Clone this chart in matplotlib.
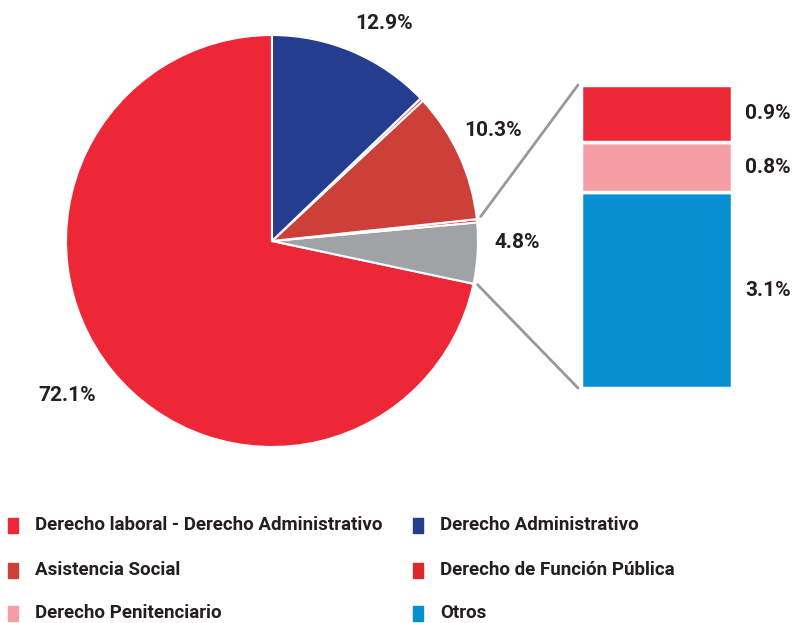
import matplotlib
matplotlib.use("Agg")
import matplotlib.pyplot as plt
from matplotlib.patches import ConnectionPatch, Rectangle
import numpy as np

plt.rcParams['font.family'] = ['Roboto', 'DejaVu Sans']

# pie slices (counter-clockwise from top)
pie_labels = ["72.1%", "4.8%", "", "10.3%", "", "12.9%"]
pie_values = [72.1, 4.8, 0.25, 10.3, 0.25, 12.9]
pie_colors = ["#ee2737", "#a0a3a5", "#ee2737", "#cc4039", "#ee2737", "#253d8e"]

# breakdown of the grey slice (bottom to top)
bar_labels = ["3.1%", "0.8%", "0.9%"]
bar_values = [3.1, 0.8, 0.9]
bar_colors = ["#0690d1", "#f59fa5", "#ec2837"]

legend_labels = ["Derecho laboral - Derecho Administrativo", "Derecho Administrativo",
                 "Asistencia Social", "Derecho de Función Pública",
                 "Derecho Penitenciario", "Otros"]
legend_colors = ["#ee2737", "#253d8e", "#cc4039", "#dc2828", "#f59fa5", "#0690d1"]

W, H = 793, 623
fig = plt.figure(figsize=(W / 100, H / 100), dpi=100)
txt = "#231f20"

# pie axes
cx, cy, r = 272, 241, 206
ax = fig.add_axes([(cx - r) / W, (H - cy - r) / H, 2 * r / W, 2 * r / H])
wedges, _ = ax.pie(pie_values, colors=pie_colors, startangle=90, counterclock=True,
                   wedgeprops=dict(edgecolor="white", linewidth=1.5))
ax.set_xlim(-1, 1)
ax.set_ylim(-1, 1)
ax.set_aspect("equal")
ax.axis("off")

label_pos = {"72.1%": (-0.995, -0.75), "4.8%": (1.19, -0.005), "10.3%": (1.073, 0.534),
             "12.9%": (0.544, 1.058)}
for lab in pie_labels:
    if lab:
        x, y = label_pos[lab]
        ax.text(x, y, lab, ha="center", va="center", fontsize=15, fontweight="bold",
                color=txt, clip_on=False)

# bar axes
bx0, bx1, by0, by1 = 581, 732, 85, 388
bax = fig.add_axes([bx0 / W, (H - by1) / H, (bx1 - bx0) / W, (by1 - by0) / H])
bottom = 0
for v, c, lab in zip(bar_values, bar_colors, bar_labels):
    bax.bar(0, v, width=1, bottom=bottom, color=c, edgecolor="white", linewidth=2.5)
    bax.text(0.586, bottom + v / 2, lab, ha="left", va="center", fontsize=15,
             fontweight="bold", color=txt)
    bottom += v
bax.set_xlim(-0.5, 0.5)
bax.set_ylim(0, sum(bar_values))
bax.axis("off")

# connector lines from the grey wedge to the bar
grey = wedges[1]
for theta, ycorner in [(grey.theta2 + 1.5, sum(bar_values)), (grey.theta1, 0)]:
    t = np.deg2rad(theta)
    p = (1.02 * np.cos(t), 1.02 * np.sin(t))
    con = ConnectionPatch(xyA=(-0.52, ycorner), coordsA=bax.transData,
                          xyB=p, coordsB=ax.transData, color="#999999", linewidth=2)
    fig.add_artist(con)

# legend
col_x = [8, 413]
row_y = [525, 570, 613]
for i, (lab, c) in enumerate(zip(legend_labels, legend_colors)):
    x = col_x[i % 2]
    y = row_y[i // 2]
    fig.patches.append(Rectangle((x / W, (H - y - 7.5) / H), 10 / W, 15 / H,
                                 transform=fig.transFigure, color=c))
    fig.text((x + 27) / W, (H - y) / H, lab, ha="left", va="center", fontsize=13.5,
             fontweight="bold", color=txt)

fig.savefig("out.png", dpi=100)
